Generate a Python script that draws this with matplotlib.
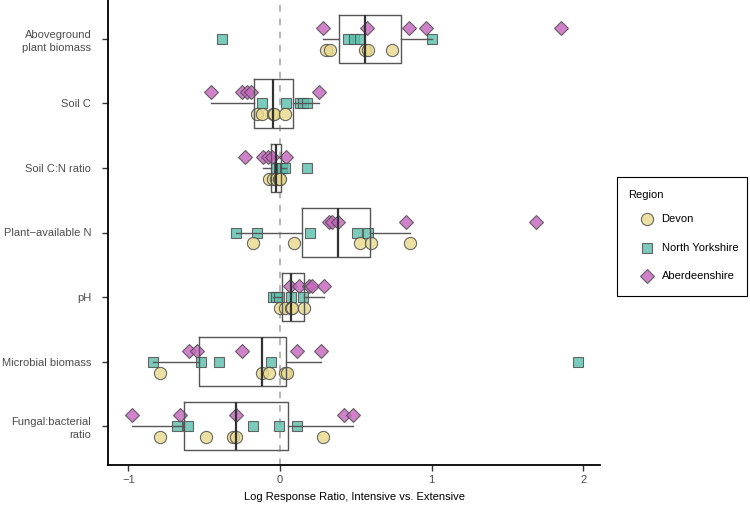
import matplotlib
matplotlib.use("Agg")
import matplotlib.pyplot as plt
import numpy as np
from matplotlib.lines import Line2D
from matplotlib.patches import Rectangle

plt.rcParams['font.family'] = ['Liberation Sans', 'DejaVu Sans']

categories = ["Aboveground\nplant biomass", "Soil C", "Soil C:N ratio",
              "Plant\u2212available N", "pH", "Microbial biomass",
              "Fungal:bacterial\nratio"]
regions = ["Devon", "North Yorkshire", "Aberdeenshire"]

devon = [
    [0.30, 0.33, 0.56, 0.58, 0.74],
    [-0.15, -0.12, -0.05, -0.04, 0.03],
    [-0.07, -0.05, -0.03, -0.01, 0.0],
    [-0.18, 0.09, 0.53, 0.60, 0.86],
    [0.0, 0.03, 0.075, 0.08, 0.16],
    [-0.79, -0.12, -0.07, 0.03, 0.045],
    [-0.79, -0.49, -0.31, -0.29, 0.28],
]
north_yorkshire = [
    [-0.385, 0.45, 0.49, 0.53, 1.0],
    [-0.12, 0.04, 0.13, 0.15, 0.18],
    [-0.03, -0.01, 0.01, 0.03, 0.18],
    [-0.29, -0.15, 0.20, 0.51, 0.58],
    [-0.05, -0.03, -0.01, 0.07, 0.15],
    [-0.84, -0.52, -0.40, -0.06, 1.965],
    [-0.68, -0.605, -0.18, -0.004, 0.11],
]
aberdeenshire = [
    [0.28, 0.57, 0.85, 0.96, 1.85],
    [-0.457, -0.25, -0.22, -0.19, 0.257],
    [-0.23, -0.11, -0.08, -0.055, 0.04],
    [0.32, 0.34, 0.38, 0.83, 1.69],
    [0.066, 0.125, 0.19, 0.21, 0.29],
    [-0.60, -0.55, -0.25, 0.11, 0.27],
    [-0.98, -0.66, -0.29, 0.42, 0.48],
]

colors = {"Devon": "#E8D98E", "North Yorkshire": "#5EC0AD", "Aberdeenshire": "#C566BE"}
markers = {"Devon": "o", "North Yorkshire": "s", "Aberdeenshire": "D"}
msizes = {"Devon": 8.8, "North Yorkshire": 7.9, "Aberdeenshire": 7.6}
offsets = {"Devon": 0.17, "North Yorkshire": 0.0, "Aberdeenshire": -0.17}
series = {"Devon": devon, "North Yorkshire": north_yorkshire, "Aberdeenshire": aberdeenshire}

W, H = 750, 507
fig = plt.figure(figsize=(W / 100, H / 100), dpi=100)
ax = fig.add_axes([108 / W, 42 / H, 492 / W, 465 / H])

ypos = np.arange(len(categories))
ax.axvline(0, color="#AAAAAA", linestyle=(0, (4, 4)), linewidth=1.2, zorder=1)

for reg in ["Aberdeenshire", "North Yorkshire", "Devon"]:
    for i, vals in enumerate(series[reg]):
        ax.plot(vals, [i + offsets[reg]] * len(vals), linestyle="none",
                marker=markers[reg], markersize=msizes[reg],
                markerfacecolor=colors[reg], markeredgecolor="#4A4A4A",
                markeredgewidth=0.8, alpha=0.82, zorder=3)

alldata = [devon[i] + north_yorkshire[i] + aberdeenshire[i] for i in range(len(categories))]
ax.boxplot(alldata, positions=ypos, vert=False, widths=0.75, whis=1.5,
           showfliers=False, patch_artist=False, manage_ticks=False,
           boxprops=dict(color="#555555", linewidth=1.0),
           whiskerprops=dict(color="#555555", linewidth=1.0),
           capprops=dict(linewidth=0),
           medianprops=dict(color="#333333", linewidth=1.6),
           zorder=4)

ax.set_ylim(6.6, -0.6)
ax.set_xlim(-1.135, 2.11)
ax.set_yticks(ypos)
ax.set_yticklabels(categories, fontsize=8, color="#4D4D4D", linespacing=1.4)
ax.set_xticks([-1, 0, 1, 2])
ax.set_xticklabels(["\u22121", "0", "1", "2"], fontsize=8, color="#4D4D4D")
ax.set_xlabel("Log Response Ratio, Intensive vs. Extensive", fontsize=8, color="black", labelpad=5)
for s in ["top", "right"]:
    ax.spines[s].set_visible(False)
for s in ["left", "bottom"]:
    ax.spines[s].set_linewidth(1.3)
    ax.spines[s].set_color("black")
ax.tick_params(axis="both", length=4, width=1.0, color="#333333")
ax.tick_params(axis="y", pad=8)

# manual legend (figure pixel layout)
def fx(px):
    return px / W

def fy(py):
    return 1 - py / H

fig.add_artist(Rectangle((fx(617), fy(296)), fx(747) - fx(617), fy(177) - fy(296),
                         transform=fig.transFigure, facecolor="white",
                         edgecolor="black", linewidth=0.8))
fig.text(fx(628), fy(195), "Region", fontsize=8, ha="left", va="center")
for k, reg in enumerate(regions):
    yy = [219.3, 247.7, 276.0][k]
    fig.add_artist(Line2D([fx(647)], [fy(yy)], transform=fig.transFigure,
                          linestyle="none", marker=markers[reg], markersize=msizes[reg],
                          markerfacecolor=colors[reg], markeredgecolor="#4A4A4A",
                          markeredgewidth=0.8, alpha=0.82))
    fig.text(fx(661.5), fy(yy), reg, fontsize=8, ha="left", va="center")

fig.savefig("out.png", dpi=100)
